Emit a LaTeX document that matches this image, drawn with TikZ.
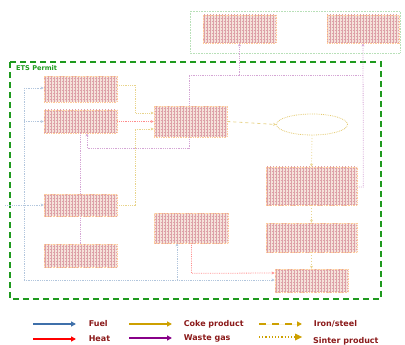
\documentclass[tikz,border=0pt]{standalone}
\usepackage{fontspec}
\setmainfont{DejaVu Sans}
\usetikzlibrary{patterns,shapes.geometric,arrows.meta}
\definecolor{permitgreen}{HTML}{1E9A1E}
\definecolor{legred}{HTML}{8B1A1A}
\definecolor{fuelc}{HTML}{3F70AA}
\definecolor{cokec}{HTML}{CDA000}
\definecolor{wastec}{HTML}{880088}
\definecolor{unitdot}{HTML}{DDA0A8}
\definecolor{unitbg}{HTML}{F5E2DA}
\begin{document}
\begin{tikzpicture}[x=1pt,y=-1pt,
  unit/.style={rectangle,draw=orange!40,densely dotted,line width=0.7pt,
    preaction={fill=unitbg},pattern=grid,pattern color=unitdot,
    inner sep=0pt,anchor=center},
  oval/.style={ellipse,draw=cokec!55,densely dotted,line width=0.8pt,inner sep=0pt},
  fuelln/.style={draw=fuelc!40,densely dotted,line width=0.8pt,-{Stealth[length=3pt,width=3pt]}},
  fuelnoarr/.style={draw=fuelc!40,densely dotted,line width=0.8pt},
  heatln/.style={draw=red!45,densely dotted,line width=0.8pt,-{Stealth[length=3pt,width=3pt]}},
  cokeln/.style={draw=cokec!45,densely dotted,line width=0.8pt,-{Stealth[length=3pt,width=3pt]}},
  ironln/.style={draw=cokec!45,dash pattern=on 3pt off 3pt,line width=0.8pt,-{Stealth[length=3pt,width=3pt]}},
  sinterln/.style={draw=cokec!45,dotted,line width=0.8pt,-{Stealth[length=3pt,width=3pt]}},
  wasteln/.style={draw=wastec!35,densely dotted,line width=0.8pt,-{Stealth[length=3pt,width=3pt]}},
  wastenoarr/.style={draw=wastec!35,densely dotted,line width=0.8pt},
  legarrow/.style={line width=1.6pt,-{Triangle[length=5pt,width=5pt]}},
  legtext/.style={font=\bfseries\fontsize{8}{9}\selectfont,text=legred,anchor=west,inner sep=0pt}
]
\useasboundingbox (0,0) rectangle (405,345);

% outer boxes
\draw[draw=green!40!gray!40,densely dotted,line width=0.6pt] (190,11) rectangle (400,53);
\draw[draw=permitgreen,line width=1.8pt,dash pattern=on 6pt off 4pt] (10,62) rectangle (381,299);
\node[font=\bfseries\fontsize{6.6}{7}\selectfont,text=permitgreen,anchor=west,inner sep=0pt] (permit) at (16,68) {ETS Permit};

% units
\node[unit,minimum width=73,minimum height=28] (topA) at (239.5,29) {};
\node[unit,minimum width=72,minimum height=28] (topB) at (363,29) {};
\node[unit,minimum width=73,minimum height=26] (b1) at (80.5,89) {};
\node[unit,minimum width=73,minimum height=23] (b2) at (80.5,121.5) {};
\node[unit,minimum width=73,minimum height=22] (b3) at (80.5,205) {};
\node[unit,minimum width=73,minimum height=23] (b4) at (80.5,255.5) {};
\node[unit,minimum width=73,minimum height=31] (C) at (190.5,121.5) {};
\node[unit,minimum width=74,minimum height=30] (D) at (191,228) {};
\node[oval,minimum width=71,minimum height=21] (E) at (312,124.5) {};
\node[unit,minimum width=91,minimum height=38] (R1) at (311.5,186) {};
\node[unit,minimum width=91,minimum height=29] (R2) at (311.5,237.5) {};
\node[unit,minimum width=73,minimum height=23] (R3) at (311.5,280.5) {};

% fuel
\coordinate (ftop) at (24,88);
\coordinate (fbot) at (24,280);
\coordinate (fin) at (5,205);
\draw[fuelnoarr] (ftop) -- (fbot);
\draw[fuelln] (ftop) -- (ftop -| b1.west);
\draw[fuelln] (ftop |- b2.west) -- (b2.west);
\draw[fuelln] (fin) -- (b3.west);
\draw[fuelln] (fbot) -- (fbot -| R3.west);
\draw[fuelln] (fbot -| D.south) ++(-14,0) coordinate (fd) -- (fd |- D.south);

% heat
\draw[heatln] (b2.east) -- (C.west);
\draw[heatln] ([xshift=0.5pt]D.south) -- ++(0,30) -- ([yshift=7.5pt]R3.west);

% coke
\draw[cokeln] ([yshift=4pt]b1.east) -- ++(18,0) |- ([yshift=8.5pt]C.west);
\draw[cokeln] (b3.east) -- ++(18,0) |- ([yshift=-7.5pt]C.west);

% iron / sinter
\draw[ironln] (C.east) -- (E.west);
\draw[sinterln] (E.south) -- (R1.north);
\draw[sinterln] (R1.south) -- (R2.north);
\draw[sinterln] (R2.south) -- (R3.north);

% waste gas
\coordinate (wj) at (189,75);
\draw[wasteln] (wj) -- (wj -| topA.south) -- (topA.south);
\draw[wastenoarr] (wj) -- (wj -| topB.south);
\draw[wastenoarr] ([xshift=-1.5pt]C.north) -- (wj);
\draw[wasteln] ([yshift=-1pt]R1.east) -- ++(6,0) -- (topB.south);
\draw[wasteln] ([xshift=-1.5pt]C.south) -- ++(0,11) -| ([xshift=6.5pt]b2.south);
\draw[wastenoarr] ([xshift=-0.5pt]b2.south) -- ([xshift=-0.5pt]b3.north);
\draw[wastenoarr] ([xshift=-0.5pt]b3.south) -- ([xshift=-0.5pt]b4.north);

% legend
\coordinate (l1) at (33,324);
\coordinate (l2) at (33,339);
\draw[legarrow,draw=fuelc,fill=fuelc] (l1) -- ++(43,0) node[legtext,right=12pt] (tfuel) {Fuel};
\draw[legarrow,draw=red,fill=red] (l2) -- ++(43,0) node[legtext,right=12pt] (theat) {Heat};
\draw[legarrow,draw=cokec,fill=cokec] (129,324) -- ++(43,0) node[legtext,right=11pt] (tcoke) {Coke product};
\draw[legarrow,draw=wastec,fill=wastec] (129,338) -- ++(43,0) node[legtext,right=11pt] (twaste) {Waste gas};
\draw[legarrow,draw=cokec,fill=cokec,line width=1.6pt,dash pattern=on 7pt off 6pt] (259,324) -- ++(43,0) node[legtext,right=11pt] (tiron) {Iron/steel};
\draw[draw=cokec,line width=1.3pt,dash pattern=on 1.2pt off 2pt] (259,337) -- (296,337);
\fill[cokec] (295,333.5) -- (302,337) -- (295,340.5) -- cycle;
\node[legtext] (tsinter) at (313,341) {Sinter product};
\end{tikzpicture}
\end{document}
